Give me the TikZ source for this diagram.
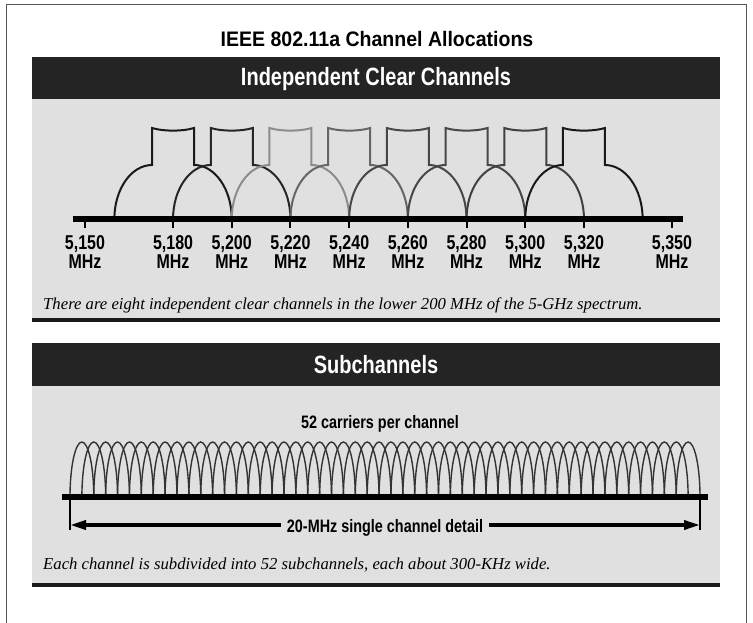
\documentclass[tikz,border=0pt]{standalone}
\usepackage{fontspec}
\setmainfont{Liberation Serif}
\newfontfamily\titlefont[FakeStretch=0.93]{Liberation Sans}
\newfontfamily\condfont[FakeStretch=0.8]{Liberation Sans}
\usetikzlibrary{arrows.meta}
\definecolor{panelgray}{HTML}{E0E0E0}
\definecolor{bardark}{HTML}{242424}
\definecolor{framegray}{HTML}{555555}

\begin{document}
\begin{tikzpicture}[x=1pt, y=-1pt,
    bar/.style={fill=bardark},
    panel/.style={fill=panelgray},
    bartext/.style={anchor=base, inner sep=0pt, text=white, font=\condfont\bfseries\fontsize{25}{25}\selectfont},
    ticklabel/.style={anchor=base, inner sep=0pt, font=\condfont\bfseries\fontsize{20}{20}\selectfont},
    caption/.style={anchor=base west, inner sep=0pt, font=\itshape\fontsize{16.7}{16.7}\selectfont},
    chan/.style={line width=2pt, line join=miter},
    carrier/.style={line width=1.4pt, draw=black!80},
    axis/.style={line width=5.5pt},
    arr/.style={-{Triangle[length=16pt, width=9pt]}, line width=3.5pt}
]
\useasboundingbox (0,0) rectangle (753,623);
\draw[framegray, line width=1.5pt] (6.5,623) -- (6.5,4.5) -- (746.5,4.5) -- (746.5,623);

\node[anchor=base, inner sep=0pt, font=\titlefont\bfseries\fontsize{21}{21}\selectfont] (title) at (377,47) {IEEE 802.11a Channel Allocations};

% upper panel
\fill[panel] (32,99) rectangle (720,318);
\fill[bar] (32,57) rectangle (720,99);
\fill[black!90] (32,318) rectangle (720,322);
\node[bartext] (clearhead) at (376,86) {Independent Clear Channels};

% the eight channels
\foreach \f/\c in {5180/black!90, 5200/black!85, 5220/black!45, 5240/black!60,
                   5260/black!72, 5280/black!72, 5300/black!75, 5320/black!90} {
  \pgfmathsetmacro\xc{85+(\f-5150)*2.935}
  \draw[chan, \c] ({\xc-58.7},219) .. controls ({\xc-58.7},189.2) and ({\xc-41.8},165) .. ({\xc-21},165)
    -- ({\xc-21},128) .. controls ({\xc-10},131.5) and ({\xc+10},131.5) .. ({\xc+21},128)
    -- ({\xc+21},165) .. controls ({\xc+41.8},165) and ({\xc+58.7},189.2) .. ({\xc+58.7},219);
}
\draw[axis] (73,219) -- (683,219);
\foreach \f in {5150,5180,5200,5220,5240,5260,5280,5300,5320,5350} {
  \pgfmathsetmacro\xt{85+(\f-5150)*2.935}
  \draw[line width=2pt] (\xt,219) -- (\xt,228);
  \node[ticklabel] (f\f) at (\xt,249) {5,\the\numexpr\f-5000\relax};
  \node[ticklabel] (u\f) at (\xt,269) {MHz};
}
\node[caption] (clearcap) at (43,309) {There are eight independent clear channels in the lower 200 MHz of the 5-GHz spectrum.};

% lower panel
\fill[panel] (32,386) rectangle (720,583);
\fill[bar] (32,343) rectangle (720,386);
\fill[black!90] (32,583) rectangle (720,587);
\node[bartext] (subhead) at (376,373) {Subchannels};
\node[anchor=base, inner sep=0pt, font=\condfont\bfseries\fontsize{18}{18}\selectfont] (carriers) at (380,428) {52 carriers per channel};

\foreach \i in {0,...,51} {
  \pgfmathsetmacro\xa{70+\i*11.887}
  \draw[carrier] (\xa,497) .. controls (\xa,466.6) and ({\xa+5.33},442) .. ({\xa+11.887},442)
    .. controls ({\xa+18.45},442) and ({\xa+23.77},466.6) .. ({\xa+23.77},497);
}
\draw[axis] (62,497) -- (708,497);
\draw[line width=2pt] (70,497) -- (70,530);
\draw[line width=2pt] (700,497) -- (700,530);

\coordinate (spanL) at (70,525);
\coordinate (spanR) at (700,525);
\node[anchor=base, inner sep=6pt, font=\condfont\bfseries\fontsize{18}{18}\selectfont] (span) at (385,532) {20-MHz single channel detail};
\draw[arr] (span.west |- spanL) -- (spanL);
\draw[arr] (span.east |- spanR) -- (spanR);
\node[caption] (subcap) at (43,569) {Each channel is subdivided into 52 subchannels, each about 300-KHz wide.};
\end{tikzpicture}
\end{document}
